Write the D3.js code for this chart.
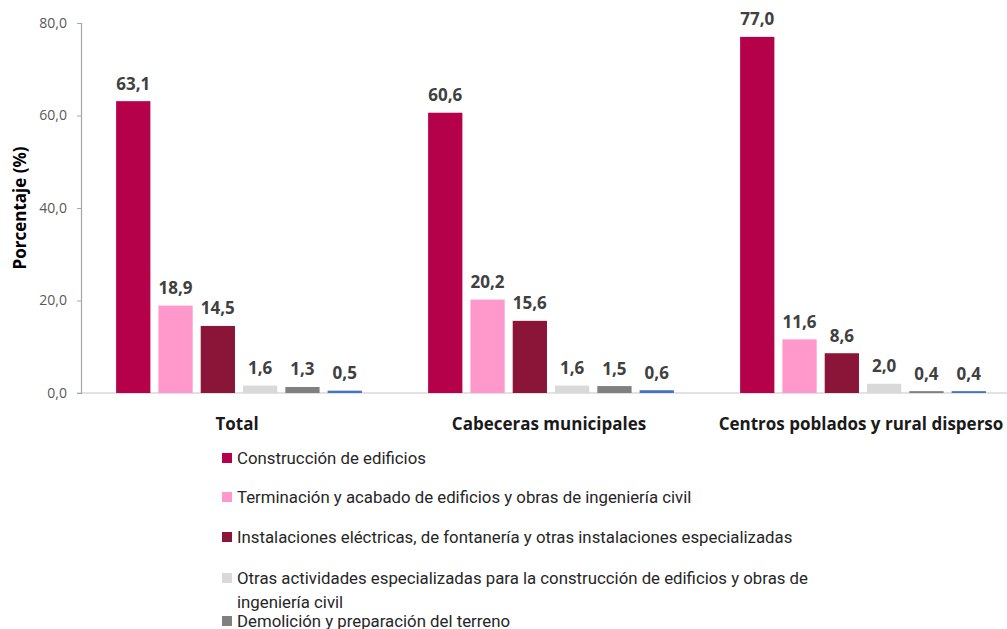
<!DOCTYPE html>
<html>
<head>
<meta charset="utf-8">
<script src="https://cdn.jsdelivr.net/npm/d3@7"></script>
<style>
  html, body { margin: 0; padding: 0; background: #fff; }
  svg { display: block; }
</style>
</head>
<body>
<div id="chart"></div>
<script>
// Categories and series
const categories = ['Total', 'Cabeceras municipales', 'Centros poblados y rural disperso'];
const seriesNames = [
  'Construcción de edificios',
  'Terminación y acabado de edificios y obras de ingeniería civil',
  'Instalaciones eléctricas, de fontanería y otras instalaciones especializadas',
  'Otras actividades especializadas para la construcción de edificios y obras de ingeniería civil',
  'Demolición y preparación del terreno',
  'Obras de ingeniería civil'
];
const seriesColors = ['#b5004a', '#ff99cc', '#8b1538', '#d9d9d9', '#808080', '#4472c4'];
// values[series][category]
const construccion = [63.1, 60.6, 77.0];
const terminacion = [18.9, 20.2, 11.6];
const instalaciones = [14.5, 15.6, 8.6];
const otras = [1.6, 1.6, 2.0];
const demolicion = [1.3, 1.5, 0.4];
const obrasCiviles = [0.5, 0.6, 0.4];
const seriesValues = [construccion, terminacion, instalaciones, otras, demolicion, obrasCiviles];
const yTicks = [0, 20, 40, 60, 80];

const width = 1007, height = 629;
const fmt = v => d3.format('.1f')(v).replace('.', ',');

const svg = d3.select('#chart').append('svg')
  .attr('width', width)
  .attr('height', height);

const plotLeft = 81, plotRight = 1017, plotTop = 23, plotBottom = 393;

const y = d3.scaleLinear().domain([0, 80]).range([plotBottom, plotTop]);

const x0 = d3.scaleBand()
  .domain(categories)
  .range([plotLeft, plotRight])
  .padding(0);

const x1 = d3.scaleBand()
  .domain(d3.range(seriesNames.length))
  .range([33, x0.bandwidth() - 29])
  .paddingInner(0.19)
  .paddingOuter(0.05);

// baseline
svg.append('line')
  .attr('x1', plotLeft - 4).attr('x2', width)
  .attr('y1', y(0)).attr('y2', y(0))
  .attr('stroke', '#d9d9d9').attr('stroke-width', 1.5);

// y axis
const yAxis = d3.axisLeft(y)
  .tickValues(yTicks)
  .tickSize(4)
  .tickFormat(fmt);

const yg = svg.append('g')
  .attr('transform', `translate(${plotLeft},0)`)
  .call(yAxis);
yg.select('.domain').attr('stroke', '#a6a6a6').attr('stroke-width', 1.2);
yg.selectAll('.tick line').attr('stroke', '#a6a6a6');
yg.selectAll('.tick text')
  .attr('x', -14)
  .style('font-family', '"Open Sans", sans-serif')
  .style('font-size', '14px')
  .attr('fill', '#595959');

svg.append('text')
  .attr('transform', `translate(26,208) rotate(-90)`)
  .attr('text-anchor', 'middle')
  .style('font-family', '"Open Sans", sans-serif')
  .style('font-size', '17px')
  .style('font-weight', '700')
  .attr('fill', '#000')
  .text('Porcentaje (%)');

// bars
const groups = svg.append('g').selectAll('g')
  .data(categories)
  .join('g')
  .attr('transform', d => `translate(${x0(d)},0)`);

groups.selectAll('rect')
  .data((c, ci) => seriesValues.map((vals, si) => ({ si, v: vals[ci] })))
  .join('rect')
  .attr('x', d => x1(d.si))
  .attr('width', x1.bandwidth())
  .attr('y', d => y(d.v))
  .attr('height', d => y(0) - y(d.v))
  .attr('fill', d => seriesColors[d.si]);

groups.selectAll('text.val')
  .data((c, ci) => seriesValues.map((vals, si) => ({ si, v: vals[ci] })))
  .join('text')
  .attr('class', 'val')
  .attr('x', d => x1(d.si) + x1.bandwidth() / 2)
  .attr('y', d => y(d.v) - 11.5)
  .attr('text-anchor', 'middle')
  .style('font-family', '"Open Sans", sans-serif')
  .style('font-size', '17px')
  .style('font-weight', '700')
  .attr('fill', '#404040')
  .text(d => fmt(d.v));

// category labels
svg.append('g').selectAll('text')
  .data(categories)
  .join('text')
  .attr('x', d => x0(d) + x0.bandwidth() / 2)
  .attr('y', 430)
  .attr('text-anchor', 'middle')
  .style('font-family', '"Open Sans", sans-serif')
  .style('font-size', '17px')
  .style('font-weight', '700')
  .attr('fill', '#1a1a1a')
  .text(d => d);

// legend (wraps the long 4th entry like the original)
const legendRows = [
  { lines: [seriesNames[0]], y: 458 },
  { lines: [seriesNames[1]], y: 497 },
  { lines: [seriesNames[2]], y: 537 },
  { lines: ['Otras actividades especializadas para la construcción de edificios y obras de', 'ingeniería civil'], y: 578 },
  { lines: [seriesNames[4]], y: 621 },
  { lines: [seriesNames[5]], y: 662 }
];

const legend = svg.append('g');
legendRows.forEach((row, i) => {
  legend.append('rect')
    .attr('x', 222).attr('y', row.y - 5)
    .attr('width', 10).attr('height', 10)
    .attr('fill', seriesColors[i]);
  const t = legend.append('text')
    .attr('x', 237).attr('y', row.y + 6)
    .style('font-family', 'Roboto, sans-serif')
    .style('font-size', '16.8px')
    .attr('fill', '#262626');
  row.lines.forEach((ln, li) => {
    t.append('tspan').attr('x', 237).attr('dy', li === 0 ? 0 : 24).text(ln);
  });
});
</script>
</body>
</html>
